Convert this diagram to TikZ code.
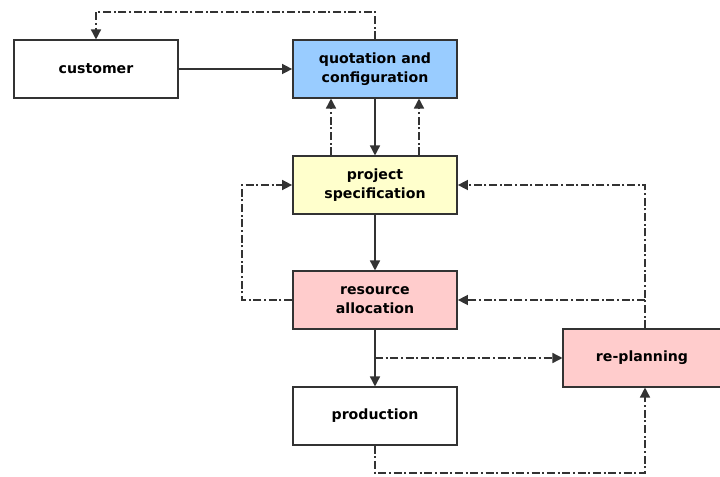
\documentclass[tikz,border=0pt]{standalone}
\usepackage{fontspec}
\setmainfont{DejaVu Sans}
\usetikzlibrary{arrows.meta}
\definecolor{qblue}{HTML}{99CCFF}
\definecolor{syellow}{HTML}{FFFFCC}
\definecolor{rpink}{HTML}{FFCCCC}
\definecolor{edge}{HTML}{333333}
\begin{document}
\begin{tikzpicture}[x=0.75pt,y=-0.75pt,
  box/.style={draw=edge,line width=1.3pt,minimum width=123pt,minimum height=43pt,
    inner sep=0pt,align=center,font=\bfseries\fontsize{10.6}{14}\selectfont},
  flow/.style={draw=edge,line width=1.1pt,-{Triangle[length=7.5pt,width=7.5pt]}},
  fb/.style={flow,dash pattern=on 6pt off 2pt on 1.5pt off 2pt}]
\useasboundingbox (0,0) rectangle (720,477);
\node[box,fill=white] (cust) at (96,69) {customer};
\node[box,fill=qblue] (quot) at (375,69) {quotation and\\configuration};
\node[box,fill=syellow] (spec) at (375,185) {project\\specification};
\node[box,fill=rpink] (res) at (375,300) {resource\\allocation};
\node[box,fill=white] (prod) at (375,416) {production};
\node[box,fill=rpink,minimum width=118pt] (rep) at (642,358) {re-planning};
\coordinate (t1) at (375,12);
\coordinate (t2) at (96,12);
\coordinate (l1) at (242,300);
\coordinate (l2) at (242,185);
\coordinate (r1) at (645,185);
\coordinate (r2) at (645,300);
\coordinate (m1) at (375,358);
\coordinate (b1) at (375,473);
\coordinate (b2) at (645,473);
\draw[flow] (cust) -- (quot);
\draw[fb] (quot.north) -- (t1) -- (t2) -- (cust.north);
\draw[flow] (quot) -- (spec);
\draw[fb] (spec.north -| 331,0) -- (quot.south -| 331,0);
\draw[fb] (spec.north -| 419,0) -- (quot.south -| 419,0);
\draw[flow] (spec) -- (res);
\draw[fb] (res.west) -- (l1) -- (l2) -- (spec.west);
\draw[fb] (rep.north -| r1) -- (r1) -- (spec.east);
\draw[fb] (r2) -- (res.east);
\draw[flow] (res) -- (prod);
\draw[fb] (m1) -- (rep.west);
\draw[fb] (prod.south) -- (b1) -- (b2) -- (rep.south -| b2);
\end{tikzpicture}
\end{document}
